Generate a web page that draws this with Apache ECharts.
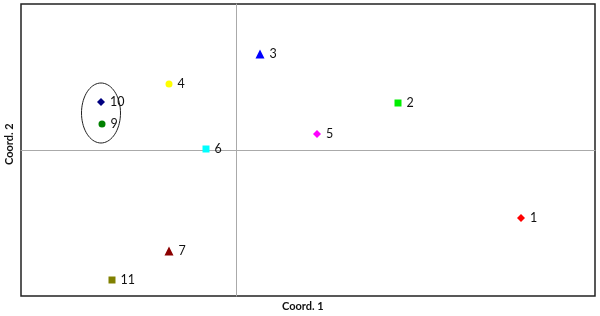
<!DOCTYPE html>
<html><head><meta charset="utf-8">
<script src="https://cdn.jsdelivr.net/npm/echarts@6/dist/echarts.min.js"></script>
<style>html,body{margin:0;padding:0;background:#fff}#c{width:600px;height:316px}</style>
</head><body><div id="c"></div>
<script>
// Sample labels and PCoA-like coordinates
const labels = ['1','2','3','4','5','6','7','9','10','11'];
const coord1 = [2.85, 1.62, 0.24, -0.67, 0.81, -0.30, -0.67, -1.34, -1.35, -1.24];
const coord2 = [-0.68, 0.47, 0.96, 0.66, 0.16, 0.01, -1.01, 0.26, 0.48, -1.30];
const symbols = ['diamond','rect','triangle','circle','diamond','rect','triangle','circle','diamond','rect'];
const colors = ['#ff0000','#00ee00','#0000ff','#ffff00','#ff00ff','#00ffff','#8b0000','#008000','#000080','#808000'];
// Ellipse around group (centre x, centre y, radius x, radius y) in coordinate units
const ellipseGroup = [-1.35, 0.37, 0.195, 0.30];
const xRange = [-2.15, 3.59];
const yRange = [-1.46, 1.46];

const chart = echarts.init(document.getElementById('c'));
const pts = labels.map((l, i) => ({
  value: [coord1[i], coord2[i], l],
  symbol: symbols[i],
  symbolSize: symbols[i] === 'triangle' ? 9 : (symbols[i] === 'diamond' ? 8 : 7),
  itemStyle: { color: colors[i], opacity: 1 }
}));
chart.setOption({
  animation: false,
  grid: { left: 21, right: 5, top: 4, bottom: 20, show: true, borderColor: '#222', borderWidth: 1.5, backgroundColor: '#fff' },
  xAxis: { type: 'value', min: xRange[0], max: xRange[1], splitLine: { show: false },
    axisLine: { onZero: true, lineStyle: { color: '#aaa', width: 1 } }, axisTick: { show: false }, axisLabel: { show: false } },
  yAxis: { type: 'value', min: yRange[0], max: yRange[1], splitLine: { show: false },
    axisLine: { onZero: true, lineStyle: { color: '#aaa', width: 1 } }, axisTick: { show: false }, axisLabel: { show: false } },
  graphic: [
    { type: 'text', left: 282, top: 301, style: { text: 'Coord. 1', font: 'bold 11px Lato', fill: '#111' } },
    { type: 'text', x: 4, y: 165, rotation: Math.PI / 2, style: { text: 'Coord. 2', font: 'bold 11px Lato', fill: '#111' } }
  ],
  series: [
    { type: 'scatter', data: pts, z: 3,
      label: { show: true, position: 'right', distance: 5, formatter: p => p.value[2], color: '#111', fontSize: 12.5, fontFamily: 'Lato' } },
    { type: 'custom', z: 2, data: [ellipseGroup], renderItem: (params, api) => {
        const c = api.coord([api.value(0), api.value(1)]);
        const e = api.coord([api.value(0) + api.value(2), api.value(1) + api.value(3)]);
        const rx = Math.abs(e[0] - c[0]), ry = Math.abs(e[1] - c[1]);
        const points = [];
        for (let k = 0; k < 72; k++) { const t = k / 72 * Math.PI * 2; points.push([c[0] + rx * Math.cos(t), c[1] + ry * Math.sin(t)]); }
        return { type: 'polygon', shape: { points }, style: { fill: 'none', stroke: '#222', lineWidth: 1 } };
      } }
  ]
});
</script></body></html>
